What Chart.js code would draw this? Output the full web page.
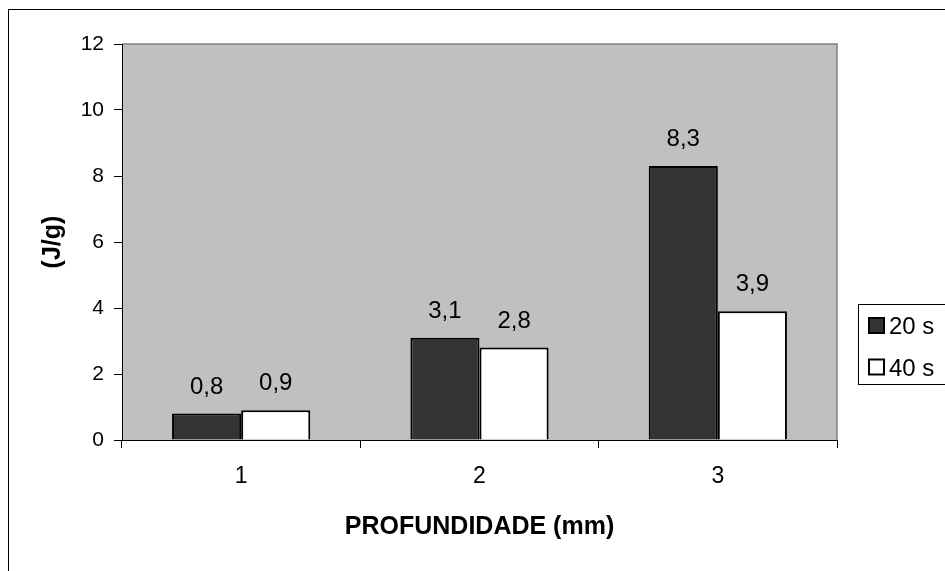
<!DOCTYPE html>
<html>
<head>
<meta charset="utf-8">
<style>
  html, body { margin: 0; padding: 0; background: #ffffff; }
  canvas { display: block; }
</style>
<script src="https://cdn.jsdelivr.net/npm/chart.js@4.4.1/dist/chart.umd.min.js"></script>
</head>
<body>
<canvas id="chart" width="945" height="571"></canvas>
<script>
// Depth categories (mm)
const categories = ['1', '2', '3'];
// Energy per gram (J/g) for each exposure time
const series20s = [0.8, 3.1, 8.3];
const series40s = [0.9, 2.8, 3.9];
const seriesNames = ['20 s', '40 s'];
const yTicks = [0, 2, 4, 6, 8, 10, 12];

const FONT = "'Liberation Sans', Arial, sans-serif";

// Grey plot panel with darker top/right edges
const plotPanel = {
  id: 'plotPanel',
  beforeDraw(chart) {
    const { ctx, chartArea: a } = chart;
    ctx.save();
    ctx.fillStyle = '#c0c0c0';
    ctx.fillRect(a.left, a.top, a.right - a.left, a.bottom - a.top);
    ctx.strokeStyle = '#808080';
    ctx.lineWidth = 1.5;
    ctx.beginPath();
    ctx.moveTo(a.left, a.top);
    ctx.lineTo(a.right, a.top);
    ctx.lineTo(a.right, a.bottom);
    ctx.stroke();
    ctx.restore();
  }
};

// Value labels above each bar, decimal comma
const valueLabels = {
  id: 'valueLabels',
  afterDatasetsDraw(chart) {
    const { ctx } = chart;
    ctx.save();
    ctx.fillStyle = '#000';
    ctx.font = '24px ' + FONT;
    ctx.textAlign = 'center';
    ctx.textBaseline = 'alphabetic';
    chart.data.datasets.forEach((ds, di) => {
      const meta = chart.getDatasetMeta(di);
      meta.data.forEach((bar, i) => {
        const txt = ds.data[i].toFixed(1).replace('.', ',');
        ctx.fillText(txt, bar.x, bar.y - 20);
      });
    });
    ctx.restore();
  }
};

// Outer frame and boxed legend on the right
const frameAndLegend = {
  id: 'frameAndLegend',
  afterDraw(chart) {
    const { ctx } = chart;
    ctx.save();
    ctx.strokeStyle = '#000';
    ctx.lineWidth = 1;
    ctx.strokeRect(8.5, 9.5, 1000, 1000);

    ctx.strokeRect(858.5, 304.5, 200, 80);
    ctx.font = '24px ' + FONT;
    ctx.textAlign = 'left';
    ctx.textBaseline = 'alphabetic';
    chart.data.datasets.forEach((ds, i) => {
      const y = 317 + i * 41.5;
      ctx.fillStyle = ds.backgroundColor;
      ctx.fillRect(868, y, 17, 17);
      ctx.lineWidth = 2;
      ctx.strokeStyle = '#000';
      ctx.strokeRect(869, y + 1, 15, 15);
      ctx.fillStyle = '#000';
      ctx.fillText(ds.label, 889, y + 17);
    });
    ctx.restore();
  }
};

new Chart(document.getElementById('chart'), {
  type: 'bar',
  data: {
    labels: categories,
    datasets: [
      {
        label: seriesNames[0],
        data: series20s,
        backgroundColor: '#333333',
        borderColor: '#000000',
        borderWidth: 2,
        categoryPercentage: 0.58,
        barPercentage: 1.0
      },
      {
        label: seriesNames[1],
        data: series40s,
        backgroundColor: '#ffffff',
        borderColor: '#000000',
        borderWidth: 2,
        categoryPercentage: 0.58,
        barPercentage: 1.0
      }
    ]
  },
  options: {
    responsive: false,
    animation: false,
    devicePixelRatio: 1,
    layout: { padding: { top: 44, right: 108, left: 0, bottom: 0 } },
    plugins: {
      legend: { display: false },
      tooltip: { enabled: false }
    },
    scales: {
      x: {
        afterFit(scale) { scale.height = 131; },
        grid: {
          offset: true,
          drawOnChartArea: false,
          drawTicks: true,
          tickLength: 8,
          color: '#000',
          lineWidth: 1
        },
        border: { color: '#000', width: 1 },
        ticks: {
          color: '#000',
          font: { family: FONT, size: 23 },
          padding: 15
        },
        title: {
          display: true,
          text: 'PROFUNDIDADE (mm)',
          color: '#000',
          font: { family: FONT, size: 25, weight: 'bold' },
          padding: { top: 0, bottom: 29 }
        }
      },
      y: {
        min: 0,
        max: 12,
        afterFit(scale) { scale.width = 122; },
        afterBuildTicks(scale) { scale.ticks = yTicks.map(v => ({ value: v })); },
        grid: {
          drawOnChartArea: false,
          drawTicks: true,
          tickLength: 8,
          color: '#000',
          lineWidth: 1
        },
        border: { color: '#000', width: 1 },
        ticks: {
          color: '#000',
          font: { family: FONT, size: 21 },
          padding: 10
        },
        title: {
          display: true,
          text: '(J/g)',
          color: '#000',
          font: { family: FONT, size: 25, weight: 'bold' },
          padding: { top: 38, bottom: 0 }
        }
      }
    }
  },
  plugins: [plotPanel, valueLabels, frameAndLegend]
});
</script>
</body>
</html>
